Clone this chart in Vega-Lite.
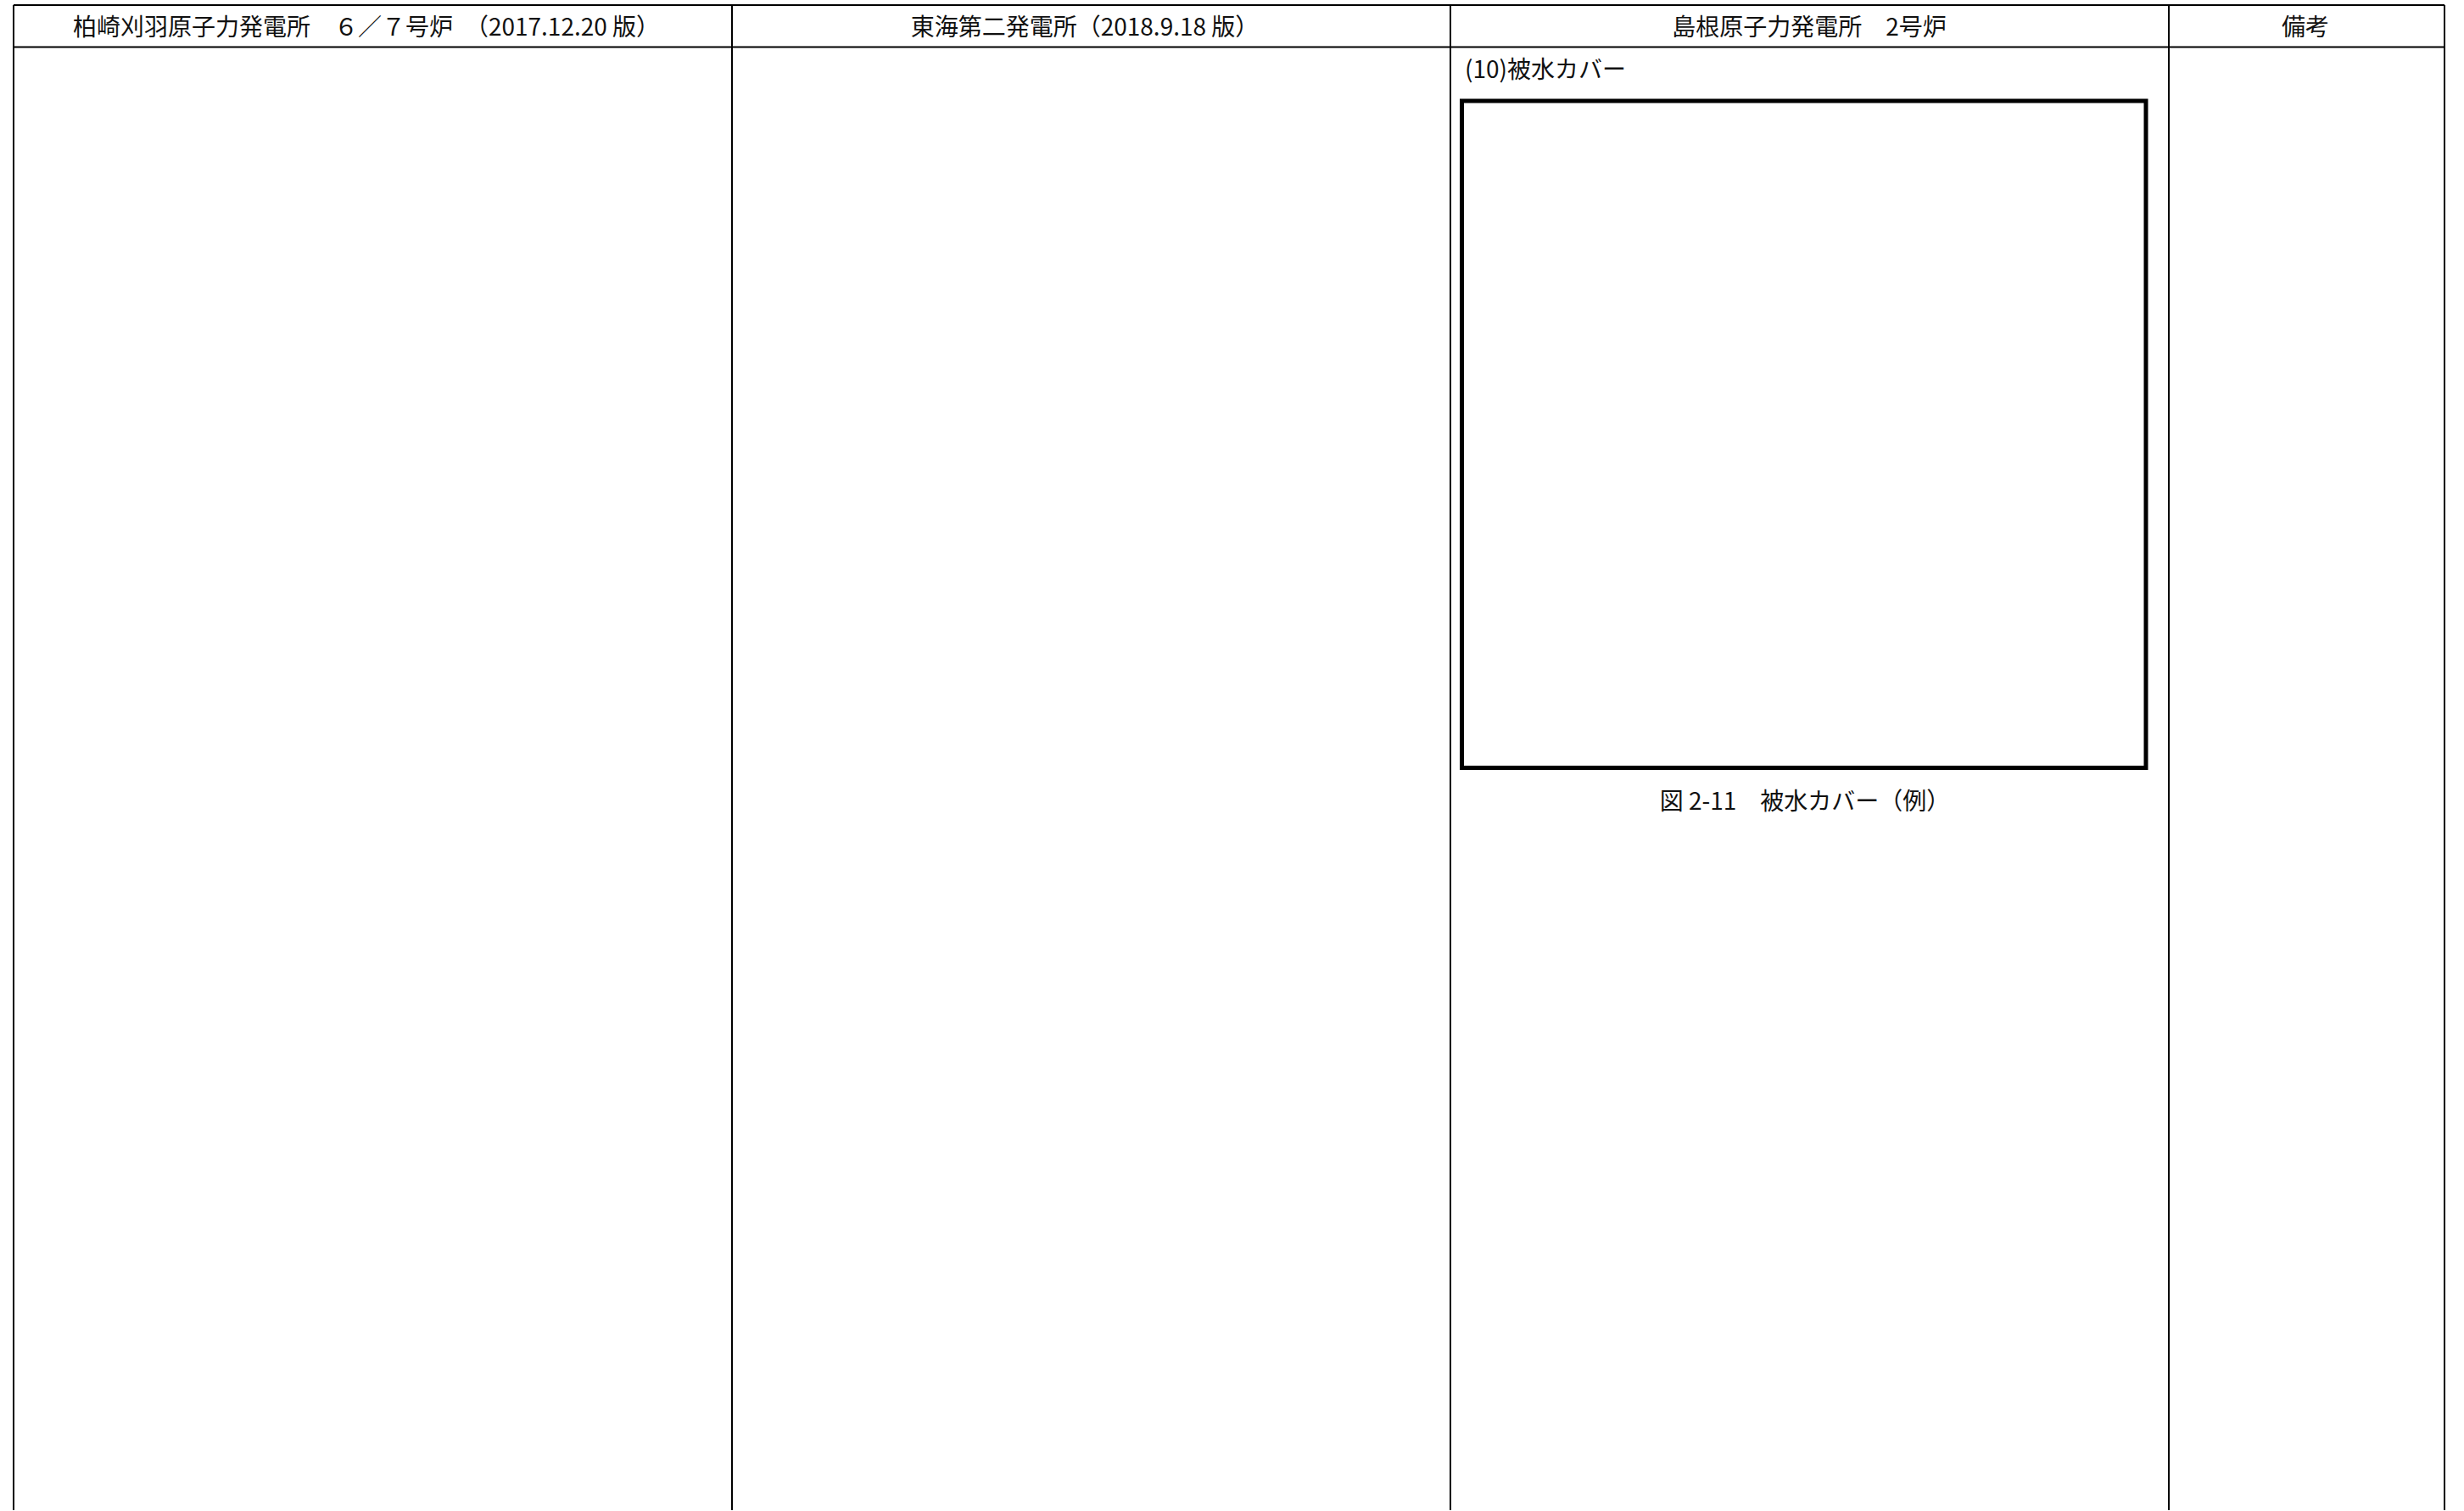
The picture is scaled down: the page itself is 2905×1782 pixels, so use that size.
{
  "$schema": "https://vega.github.io/schema/vega-lite/v6.json",
  "width": 2905,
  "height": 1782,
  "autosize": {"type": "fit", "contains": "padding"},
  "padding": 0,
  "background": "white",
  "config": {"view": {"stroke": null}, "font": "Noto Sans CJK JP"},
  "datasets": {
    "grid": [
      {"x1": 16, "x2": 2882, "y1": 6, "y2": 6},
      {"x1": 16, "x2": 2882, "y1": 55.5, "y2": 55.5},
      {"x1": 16, "x2": 16, "y1": 6, "y2": 1782},
      {"x1": 863, "x2": 863, "y1": 6, "y2": 1782},
      {"x1": 1710, "x2": 1710, "y1": 6, "y2": 1782},
      {"x1": 2557, "x2": 2557, "y1": 6, "y2": 1782},
      {"x1": 2882, "x2": 2882, "y1": 6, "y2": 1782}
    ],
    "box": [
      {"x1": 1723.5, "x2": 2530, "y1": 119, "y2": 906}
    ],
    "headers": [
      {"x": 432, "y": 34, "label": "柏崎刈羽原子力発電所　６／７号炉　（2017.12.20 版）"},
      {"x": 1279, "y": 34, "label": "東海第二発電所（2018.9.18 版）"},
      {"x": 2133, "y": 34, "label": "島根原子力発電所　2号炉"},
      {"x": 2718, "y": 34, "label": "備考"}
    ],
    "notes": [
      {"x": 1727, "y": 84, "label": "(10)被水カバー"}
    ],
    "captions": [
      {"x": 2128, "y": 948, "label": "図 2-11　被水カバー（例）"}
    ]
  },
  "layer": [
    {
      "data": {"name": "grid"},
      "mark": {"type": "rule", "stroke": "#000000", "strokeWidth": 2},
      "encoding": {
        "x": {"field": "x1", "type": "quantitative", "scale": {"domain": [0, 2905], "nice": false, "zero": false}, "axis": null},
        "x2": {"field": "x2"},
        "y": {"field": "y1", "type": "quantitative", "scale": {"domain": [0, 1782], "nice": false, "zero": false, "reverse": true}, "axis": null},
        "y2": {"field": "y2"}
      }
    },
    {
      "data": {"name": "box"},
      "mark": {"type": "rect", "fillOpacity": 0, "stroke": "#000000", "strokeWidth": 5},
      "encoding": {
        "x": {"field": "x1", "type": "quantitative"},
        "x2": {"field": "x2"},
        "y": {"field": "y1", "type": "quantitative"},
        "y2": {"field": "y2"}
      }
    },
    {
      "data": {"name": "headers"},
      "mark": {"type": "text", "fontSize": 28, "align": "center", "baseline": "middle", "color": "#111111"},
      "encoding": {
        "x": {"field": "x", "type": "quantitative"},
        "y": {"field": "y", "type": "quantitative"},
        "text": {"field": "label"}
      }
    },
    {
      "data": {"name": "notes"},
      "mark": {"type": "text", "fontSize": 28, "align": "left", "baseline": "middle", "color": "#111111"},
      "encoding": {
        "x": {"field": "x", "type": "quantitative"},
        "y": {"field": "y", "type": "quantitative"},
        "text": {"field": "label"}
      }
    },
    {
      "data": {"name": "captions"},
      "mark": {"type": "text", "fontSize": 28, "align": "center", "baseline": "middle", "color": "#111111"},
      "encoding": {
        "x": {"field": "x", "type": "quantitative"},
        "y": {"field": "y", "type": "quantitative"},
        "text": {"field": "label"}
      }
    }
  ]
}
